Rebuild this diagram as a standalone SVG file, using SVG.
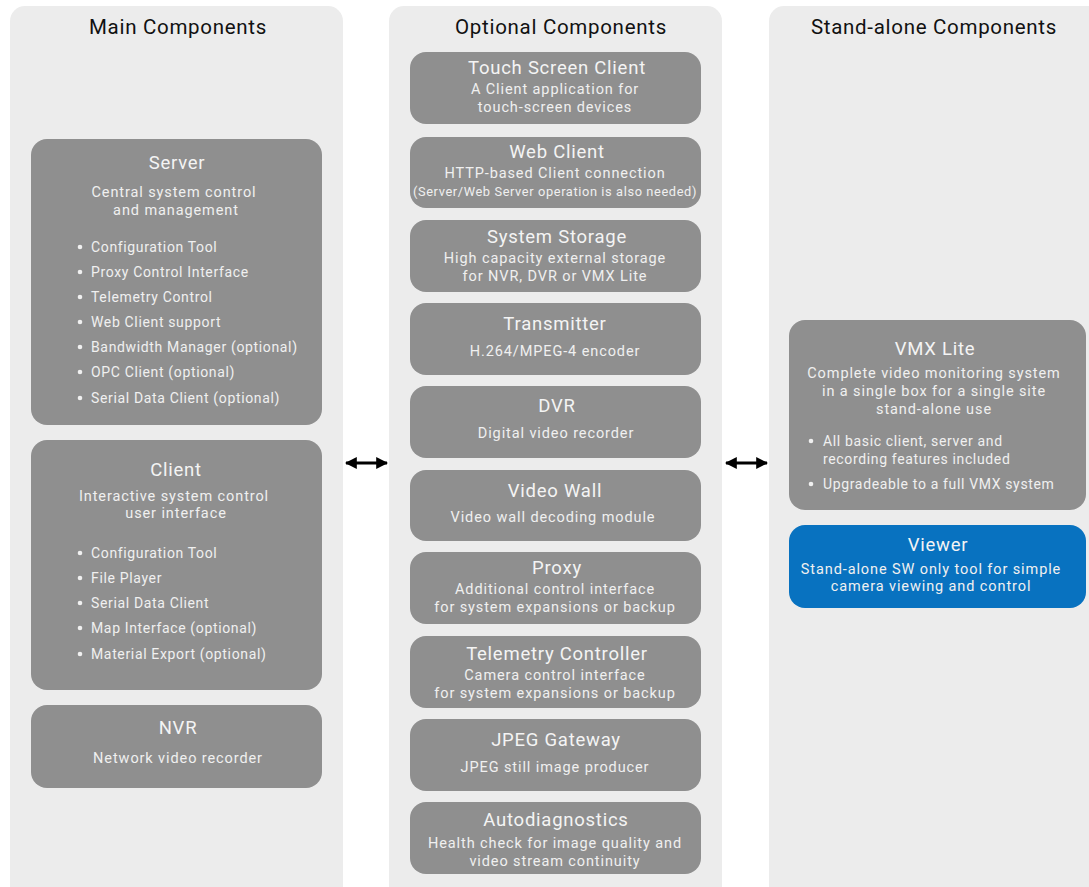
<svg xmlns="http://www.w3.org/2000/svg" width="1089" height="887" viewBox="0 0 1089 887">
<defs>
<style>
.panel{fill:#ececec}
.box{fill:#8f8f8f}
.blue{fill:#0872c0}
text{font-family:Roboto,"Open Sans","Liberation Sans",sans-serif}
.h{font-size:20.5px;fill:#111;text-anchor:middle;letter-spacing:0.7px}
.t{font-size:18.5px;fill:#f4f4f4;text-anchor:middle;letter-spacing:0.75px}
.s{font-size:14.5px;fill:#f0f0f0;text-anchor:middle;letter-spacing:0.9px}
.xs{font-size:12.8px;fill:#f0f0f0;text-anchor:middle;letter-spacing:0.62px}
.b{font-size:14px;fill:#f0f0f0;letter-spacing:0.65px}
.dot{fill:#f0f0f0}
.conn{stroke:#000;stroke-width:3;fill:none}
</style>
<marker id="ah" viewBox="0 0 10 10" refX="9" refY="5" markerWidth="4" markerHeight="4" orient="auto-start-reverse" markerUnits="strokeWidth">
<path d="M0,0 L10,5 L0,10 Z" fill="#000"/>
</marker>
</defs>
<rect width="1089" height="887" fill="#fff"/>
<g id="panels">
<rect class="panel" x="10" y="6" width="333" height="895" rx="15"/>
<rect class="panel" x="389" y="6" width="333" height="895" rx="15"/>
<rect class="panel" x="769" y="6" width="340" height="895" rx="15"/>
<text class="h" x="178" y="34">Main Components</text>
<text class="h" x="561" y="34">Optional Components</text>
<text class="h" x="934" y="34">Stand-alone Components</text>
</g>
<g id="connectors">
<line class="conn" x1="346" y1="463" x2="387" y2="463" marker-start="url(#ah)" marker-end="url(#ah)"/>
<line class="conn" x1="726" y1="463" x2="767" y2="463" marker-start="url(#ah)" marker-end="url(#ah)"/>
</g>
<g id="server">
<rect class="box" x="31" y="139" width="291" height="286" rx="16"/>
<text class="t" x="177" y="168.5">Server</text>
<text class="s" x="174" y="197">Central system control</text>
<text class="s" x="176" y="215">and management</text>
<g class="dot"><circle cx="80" cy="247" r="2.3"/><circle cx="80" cy="272" r="2.3"/><circle cx="80" cy="297" r="2.3"/><circle cx="80" cy="322" r="2.3"/><circle cx="80" cy="347" r="2.3"/><circle cx="80" cy="372" r="2.3"/><circle cx="80" cy="398" r="2.3"/></g>
<text class="b" x="91" y="252">Configuration Tool</text>
<text class="b" x="91" y="277">Proxy Control Interface</text>
<text class="b" x="91" y="302">Telemetry Control</text>
<text class="b" x="91" y="327">Web Client support</text>
<text class="b" x="91" y="352">Bandwidth Manager (optional)</text>
<text class="b" x="91" y="377">OPC Client (optional)</text>
<text class="b" x="91" y="403">Serial Data Client (optional)</text>
</g>
<g id="client">
<rect class="box" x="31" y="440" width="291" height="250" rx="16"/>
<text class="t" x="176" y="475.5">Client</text>
<text class="s" x="174" y="501">Interactive system control</text>
<text class="s" x="176" y="518">user interface</text>
<g class="dot"><circle cx="80" cy="553" r="2.3"/><circle cx="80" cy="578" r="2.3"/><circle cx="80" cy="603" r="2.3"/><circle cx="80" cy="628" r="2.3"/><circle cx="80" cy="654" r="2.3"/></g>
<text class="b" x="91" y="558">Configuration Tool</text>
<text class="b" x="91" y="583">File Player</text>
<text class="b" x="91" y="608">Serial Data Client</text>
<text class="b" x="91" y="633">Map Interface (optional)</text>
<text class="b" x="91" y="659">Material Export (optional)</text>
</g>
<g id="nvr">
<rect class="box" x="31" y="705" width="291" height="83" rx="16"/>
<text class="t" x="178" y="733.5">NVR</text>
<text class="s" x="178" y="763">Network video recorder</text>
</g>
<g id="touch">
<rect class="box" x="410" y="52" width="291" height="72" rx="16"/>
<text class="t" x="557" y="73.5">Touch Screen Client</text>
<text class="s" x="555" y="94">A Client application for</text>
<text class="s" x="555" y="112">touch-screen devices</text>
</g>
<g id="webclient">
<rect class="box" x="410" y="137" width="291" height="71" rx="16"/>
<text class="t" x="557" y="157.5">Web Client</text>
<text class="s" x="555" y="178">HTTP-based Client connection</text>
<text class="xs" x="555" y="196">(Server/Web Server operation is also needed)</text>
</g>
<g id="storage">
<rect class="box" x="410" y="220" width="291" height="72" rx="16"/>
<text class="t" x="557" y="242.5">System Storage</text>
<text class="s" x="555" y="263">High capacity external storage</text>
<text class="s" x="555" y="281">for NVR, DVR or VMX Lite</text>
</g>
<g id="transmitter">
<rect class="box" x="410" y="303" width="291" height="72" rx="16"/>
<text class="t" x="555" y="329.5">Transmitter</text>
<text class="s" x="555" y="356">H.264/MPEG-4 encoder</text>
</g>
<g id="dvr">
<rect class="box" x="410" y="386" width="291" height="72" rx="16"/>
<text class="t" x="557" y="411.5">DVR</text>
<text class="s" x="556" y="438">Digital video recorder</text>
</g>
<g id="videowall">
<rect class="box" x="410" y="470" width="291" height="71" rx="16"/>
<text class="t" x="555" y="496.5">Video Wall</text>
<text class="s" x="553" y="522">Video wall decoding module</text>
</g>
<g id="proxy">
<rect class="box" x="410" y="552" width="291" height="72" rx="16"/>
<text class="t" x="557" y="573.5">Proxy</text>
<text class="s" x="555" y="594">Additional control interface</text>
<text class="s" x="555" y="612">for system expansions or backup</text>
</g>
<g id="telemetry">
<rect class="box" x="410" y="636" width="291" height="72" rx="16"/>
<text class="t" x="557" y="659.5">Telemetry Controller</text>
<text class="s" x="555" y="680">Camera control interface</text>
<text class="s" x="555" y="698">for system expansions or backup</text>
</g>
<g id="jpeg">
<rect class="box" x="410" y="719" width="291" height="72" rx="16"/>
<text class="t" x="556" y="745.5">JPEG Gateway</text>
<text class="s" x="555" y="772">JPEG still image producer</text>
</g>
<g id="autodiag">
<rect class="box" x="410" y="802" width="291" height="72" rx="16"/>
<text class="t" x="556" y="825.5">Autodiagnostics</text>
<text class="s" x="555" y="848">Health check for image quality and</text>
<text class="s" x="555" y="866">video stream continuity</text>
</g>
<g id="vmxlite">
<rect class="box" x="789" y="320" width="297" height="190" rx="16"/>
<text class="t" x="935" y="354.5">VMX Lite</text>
<text class="s" x="934" y="378">Complete video monitoring system</text>
<text class="s" x="934" y="396">in a single box for a single site</text>
<text class="s" x="934" y="414">stand-alone use</text>
<g class="dot"><circle cx="811" cy="441" r="2.3"/><circle cx="811" cy="484" r="2.3"/></g>
<text class="b" x="823" y="446">All basic client, server and</text>
<text class="b" x="823" y="464">recording features included</text>
<text class="b" x="823" y="489">Upgradeable to a full VMX system</text>
</g>
<g id="viewer">
<rect class="blue" x="789" y="525" width="297" height="83" rx="16"/>
<text class="t" x="938" y="550.5">Viewer</text>
<text class="s" x="931" y="574">Stand-alone SW only tool for simple</text>
<text class="s" x="931" y="591">camera viewing and control</text>
</g>
</svg>
